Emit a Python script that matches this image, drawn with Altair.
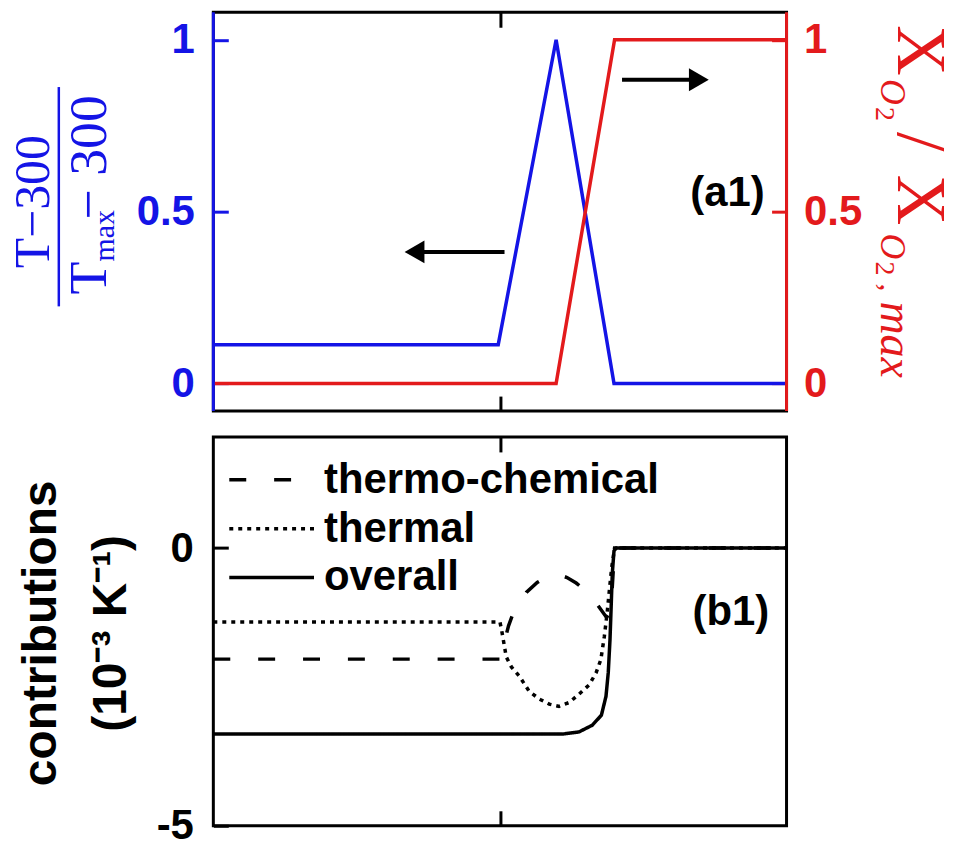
import altair as alt
import pandas as pd

# ---------------- data ----------------
# panel (a1): normalised temperature (left axis) and O2 fraction (right axis)
x_temp = [0.0, 0.497, 0.598, 0.699, 1.0]
temp_norm = [0.113, 0.113, 1.0, 0.0, 0.0]
x_o2 = [0.0, 0.598, 0.700, 1.0]
o2_norm = [0.0, 0.0, 1.0, 1.0]

# panel (b1): contributions (10^-3 K^-1)
series_names = ["thermo-chemical", "thermal", "overall"]
x_tc = [0.0, 0.500, 0.505, 0.515, 0.525, 0.546, 0.565, 0.580, 0.600, 0.617, 0.633,
        0.650, 0.665, 0.677, 0.686, 0.692, 0.696, 0.700, 1.0]
tc = [-2.0, -2.0, -1.80, -1.40, -1.12, -0.80, -0.62, -0.53, -0.47, -0.53, -0.63,
      -0.77, -0.95, -1.12, -1.25, -1.15, -0.70, 0.0, 0.0]
x_th = [0.0, 0.500, 0.503, 0.511, 0.520, 0.534, 0.551, 0.569, 0.586, 0.603, 0.621,
        0.638, 0.656, 0.668, 0.676, 0.682, 0.687, 0.691, 0.695, 0.700, 1.0]
th = [-1.33, -1.33, -1.48, -1.96, -2.14, -2.31, -2.58, -2.72, -2.81, -2.85, -2.78,
      -2.63, -2.46, -2.24, -2.01, -1.60, -1.17, -0.75, -0.35, 0.0, 0.0]
x_all = [0.0, 0.550, 0.609, 0.638, 0.661, 0.677, 0.685, 0.689, 0.692, 0.694, 0.696,
         0.699, 0.703, 1.0]
overall = [-3.35, -3.35, -3.35, -3.31, -3.19, -3.01, -2.67, -2.24, -1.65, -1.07, -0.46,
           -0.05, 0.0, 0.0]

# annotations (a1): arrows and panel labels
arrow_y = [0.383, 0.884]
arrow_start = [0.508, 0.713]
arrow_head = [0.351, 0.847]
arrow_shape = ["triangle-left", "triangle-right"]
label_a = {"x": [0.897], "y": [0.555], "t": ["(a1)"]}
label_b = {"x": [0.903], "y": [-1.15], "t": ["(b1)"]}

# ---------------- style ----------------
BLUE = "#1414e6"
RED = "#e31a1c"
SANS = "Liberation Sans"
SERIF = "Liberation Serif"
W, H1, H2 = 575, 400, 390
XDOM = [0, 1]
YDOM1 = [-0.08, 1.08]
YDOM2 = [-5, 2]

xscale = alt.Scale(domain=XDOM, nice=False, zero=False)
yscale1 = alt.Scale(domain=YDOM1, nice=False, zero=False)
yscale2 = alt.Scale(domain=YDOM2, nice=False, zero=False)
one = pd.DataFrame({"k": [0]})


def tick_axis(orient, values, color="black", labels=False, pad=17):
    kw = dict(orient=orient, values=values, title=None, grid=False, domain=False,
              ticks=True, tickSize=15, tickWidth=3, tickColor=color, offset=-15,
              labels=labels)
    if labels:
        kw.update(labelFont=SANS, labelFontSize=42, labelFontWeight="bold",
                  labelColor=color, labelPadding=pad, labelFlush=False,
                  labelOverlap=False, labelExpr="'' + datum.value")
    return alt.Axis(**kw)


def txt(text, px, py, size, color, angle=0, align="center", baseline="alphabetic",
        font=SERIF, style="normal", weight="normal"):
    return alt.Chart(one).mark_text(
        text=text, angle=angle, align=align, baseline=baseline, font=font,
        fontSize=size, fontStyle=style, fontWeight=weight, color=color
    ).encode(x=alt.value(px), y=alt.value(py))


# ---------------- top panel ----------------
df_t = pd.DataFrame({"x": x_temp, "y": temp_norm})
df_o = pd.DataFrame({"x": x_o2, "y": o2_norm})

blue = alt.Chart(df_t).mark_line(color=BLUE, strokeWidth=3.5).encode(
    x=alt.X("x:Q", scale=xscale, axis=tick_axis("bottom", [0.5])),
    y=alt.Y("y:Q", scale=yscale1, axis=tick_axis("left", [0, 0.5, 1], BLUE, True, 19)),
)
red = alt.Chart(df_o).mark_line(color=RED, strokeWidth=3.5).encode(
    x=alt.X("x:Q", scale=xscale, axis=tick_axis("top", [0.5])),
    y=alt.Y("y:Q", scale=yscale1, axis=tick_axis("right", [0, 0.5, 1], RED, True, 17)),
)

df_arrow = pd.DataFrame({"x": arrow_start, "x2": arrow_head, "y": arrow_y, "shape": arrow_shape})
shafts = alt.Chart(df_arrow).mark_rule(color="black", strokeWidth=4).encode(
    x=alt.X("x:Q", scale=xscale, axis=None), x2="x2:Q",
    y=alt.Y("y:Q", scale=yscale1, axis=None),
)
heads = alt.Chart(df_arrow).mark_point(filled=True, size=529, color="black", opacity=1).encode(
    x=alt.X("x2:Q", scale=xscale, axis=None),
    y=alt.Y("y:Q", scale=yscale1, axis=None),
    shape=alt.Shape("shape:N", scale=None),
)
a1 = alt.Chart(pd.DataFrame(label_a)).mark_text(
    font=SANS, fontSize=42, fontWeight="bold", color="black", baseline="middle"
).encode(
    x=alt.X("x:Q", scale=xscale, axis=None),
    y=alt.Y("y:Q", scale=yscale1, axis=None),
    text="t:N",
)
spine_l = alt.Chart(one).mark_rule(color=BLUE, strokeWidth=3).encode(
    x=alt.value(0), y=alt.value(0), y2=alt.value(H1))
spine_r = alt.Chart(one).mark_rule(color=RED, strokeWidth=3).encode(
    x=alt.value(W), y=alt.value(0), y2=alt.value(H1))

# left title: (T-300)/(Tmax-300)
frac = [
    txt("T\u2212300", -165, 190, 50, BLUE, angle=270),
    alt.Chart(one).mark_rule(color=BLUE, strokeWidth=2.5).encode(
        x=alt.value(-155), y=alt.value(75), y2=alt.value(295)),
    txt("T", -108, 283, 54, BLUE, angle=270, align="left"),
    txt("max", -100, 250, 30, BLUE, angle=270, align="left"),
    txt("\u2212 300", -108, 208, 54, BLUE, angle=270, align="left"),
]
# right title: X_O2 / X_O2,max
rtitle = [
    txt("X", 687, 13, 70, RED, angle=90, align="left"),
    txt("O", 670, 67, 36, RED, angle=90, align="left", style="italic"),
    txt("2", 665, 95, 28, RED, angle=90, align="left"),
    txt("/", 687, 120, 70, RED, angle=90, align="left"),
    txt("X", 687, 163, 70, RED, angle=90, align="left"),
    txt("O", 670, 222, 36, RED, angle=90, align="left", style="italic"),
    txt("2", 665, 250, 28, RED, angle=90, align="left"),
    txt(",", 670, 272, 32, RED, angle=90, align="left"),
    txt("max", 670, 290, 46, RED, angle=90, align="left", style="italic"),
]

top = alt.layer(blue, red, shafts, heads, a1, spine_l, spine_r, *frac, *rtitle).resolve_scale(
    y="independent").resolve_axis(x="independent", y="independent").properties(width=W, height=H1)

# ---------------- bottom panel ----------------
df_b = pd.concat([
    pd.DataFrame({"series": series_names[0], "x": x_tc, "y": tc}),
    pd.DataFrame({"series": series_names[1], "x": x_th, "y": th}),
    pd.DataFrame({"series": series_names[2], "x": x_all, "y": overall}),
], ignore_index=True)

lines = alt.Chart(df_b).mark_line(color="black", strokeWidth=3.5, strokeCap="butt").encode(
    x=alt.X("x:Q", scale=xscale, axis=tick_axis("bottom", [0.5])),
    y=alt.Y("y:Q", scale=yscale2, axis=tick_axis("left", [-5, 0], "black", True, 20)),
    strokeDash=alt.StrokeDash(
        "series:N",
        scale=alt.Scale(domain=series_names, range=[[17, 28], [4, 5], [1, 0]]),
        legend=alt.Legend(
            title=None, orient="none", legendX=14, legendY=22, symbolType="stroke",
            symbolSize=7225, symbolStrokeWidth=3.5, symbolStrokeColor="black",
            labelFont=SANS, labelFontSize=42, labelFontWeight="bold", labelColor="black",
            labelOffset=8, rowPadding=7, clipHeight=42, padding=0, labelLimit=0,
        ),
    ),
)
b1 = alt.Chart(pd.DataFrame(label_b)).mark_text(
    font=SANS, fontSize=42, fontWeight="bold", color="black", baseline="middle"
).encode(
    x=alt.X("x:Q", scale=xscale, axis=tick_axis("top", [0.5])),
    y=alt.Y("y:Q", scale=yscale2, axis=None),
    text="t:N",
)
ytitle = [
    txt("contributions", -158, 197, 48, "black", angle=270, font=SANS, weight="bold"),
    txt("(10\u207b\u00b3 K\u207b\u00b9)", -88, 197, 48, "black", angle=270, font=SANS, weight="bold"),
]

bottom = alt.layer(lines, b1, *ytitle).resolve_axis(x="independent", y="independent").properties(
    width=W, height=H2)

chart = alt.vconcat(top, bottom, spacing=20).resolve_scale(strokeDash="independent").configure_view(
    stroke="black", strokeWidth=3).properties(padding={"left": 7, "top": 8, "right": 4, "bottom": 0},
                                             background="white")

chart.save("out.html", embed_options={"renderer": "svg", "actions": False})
